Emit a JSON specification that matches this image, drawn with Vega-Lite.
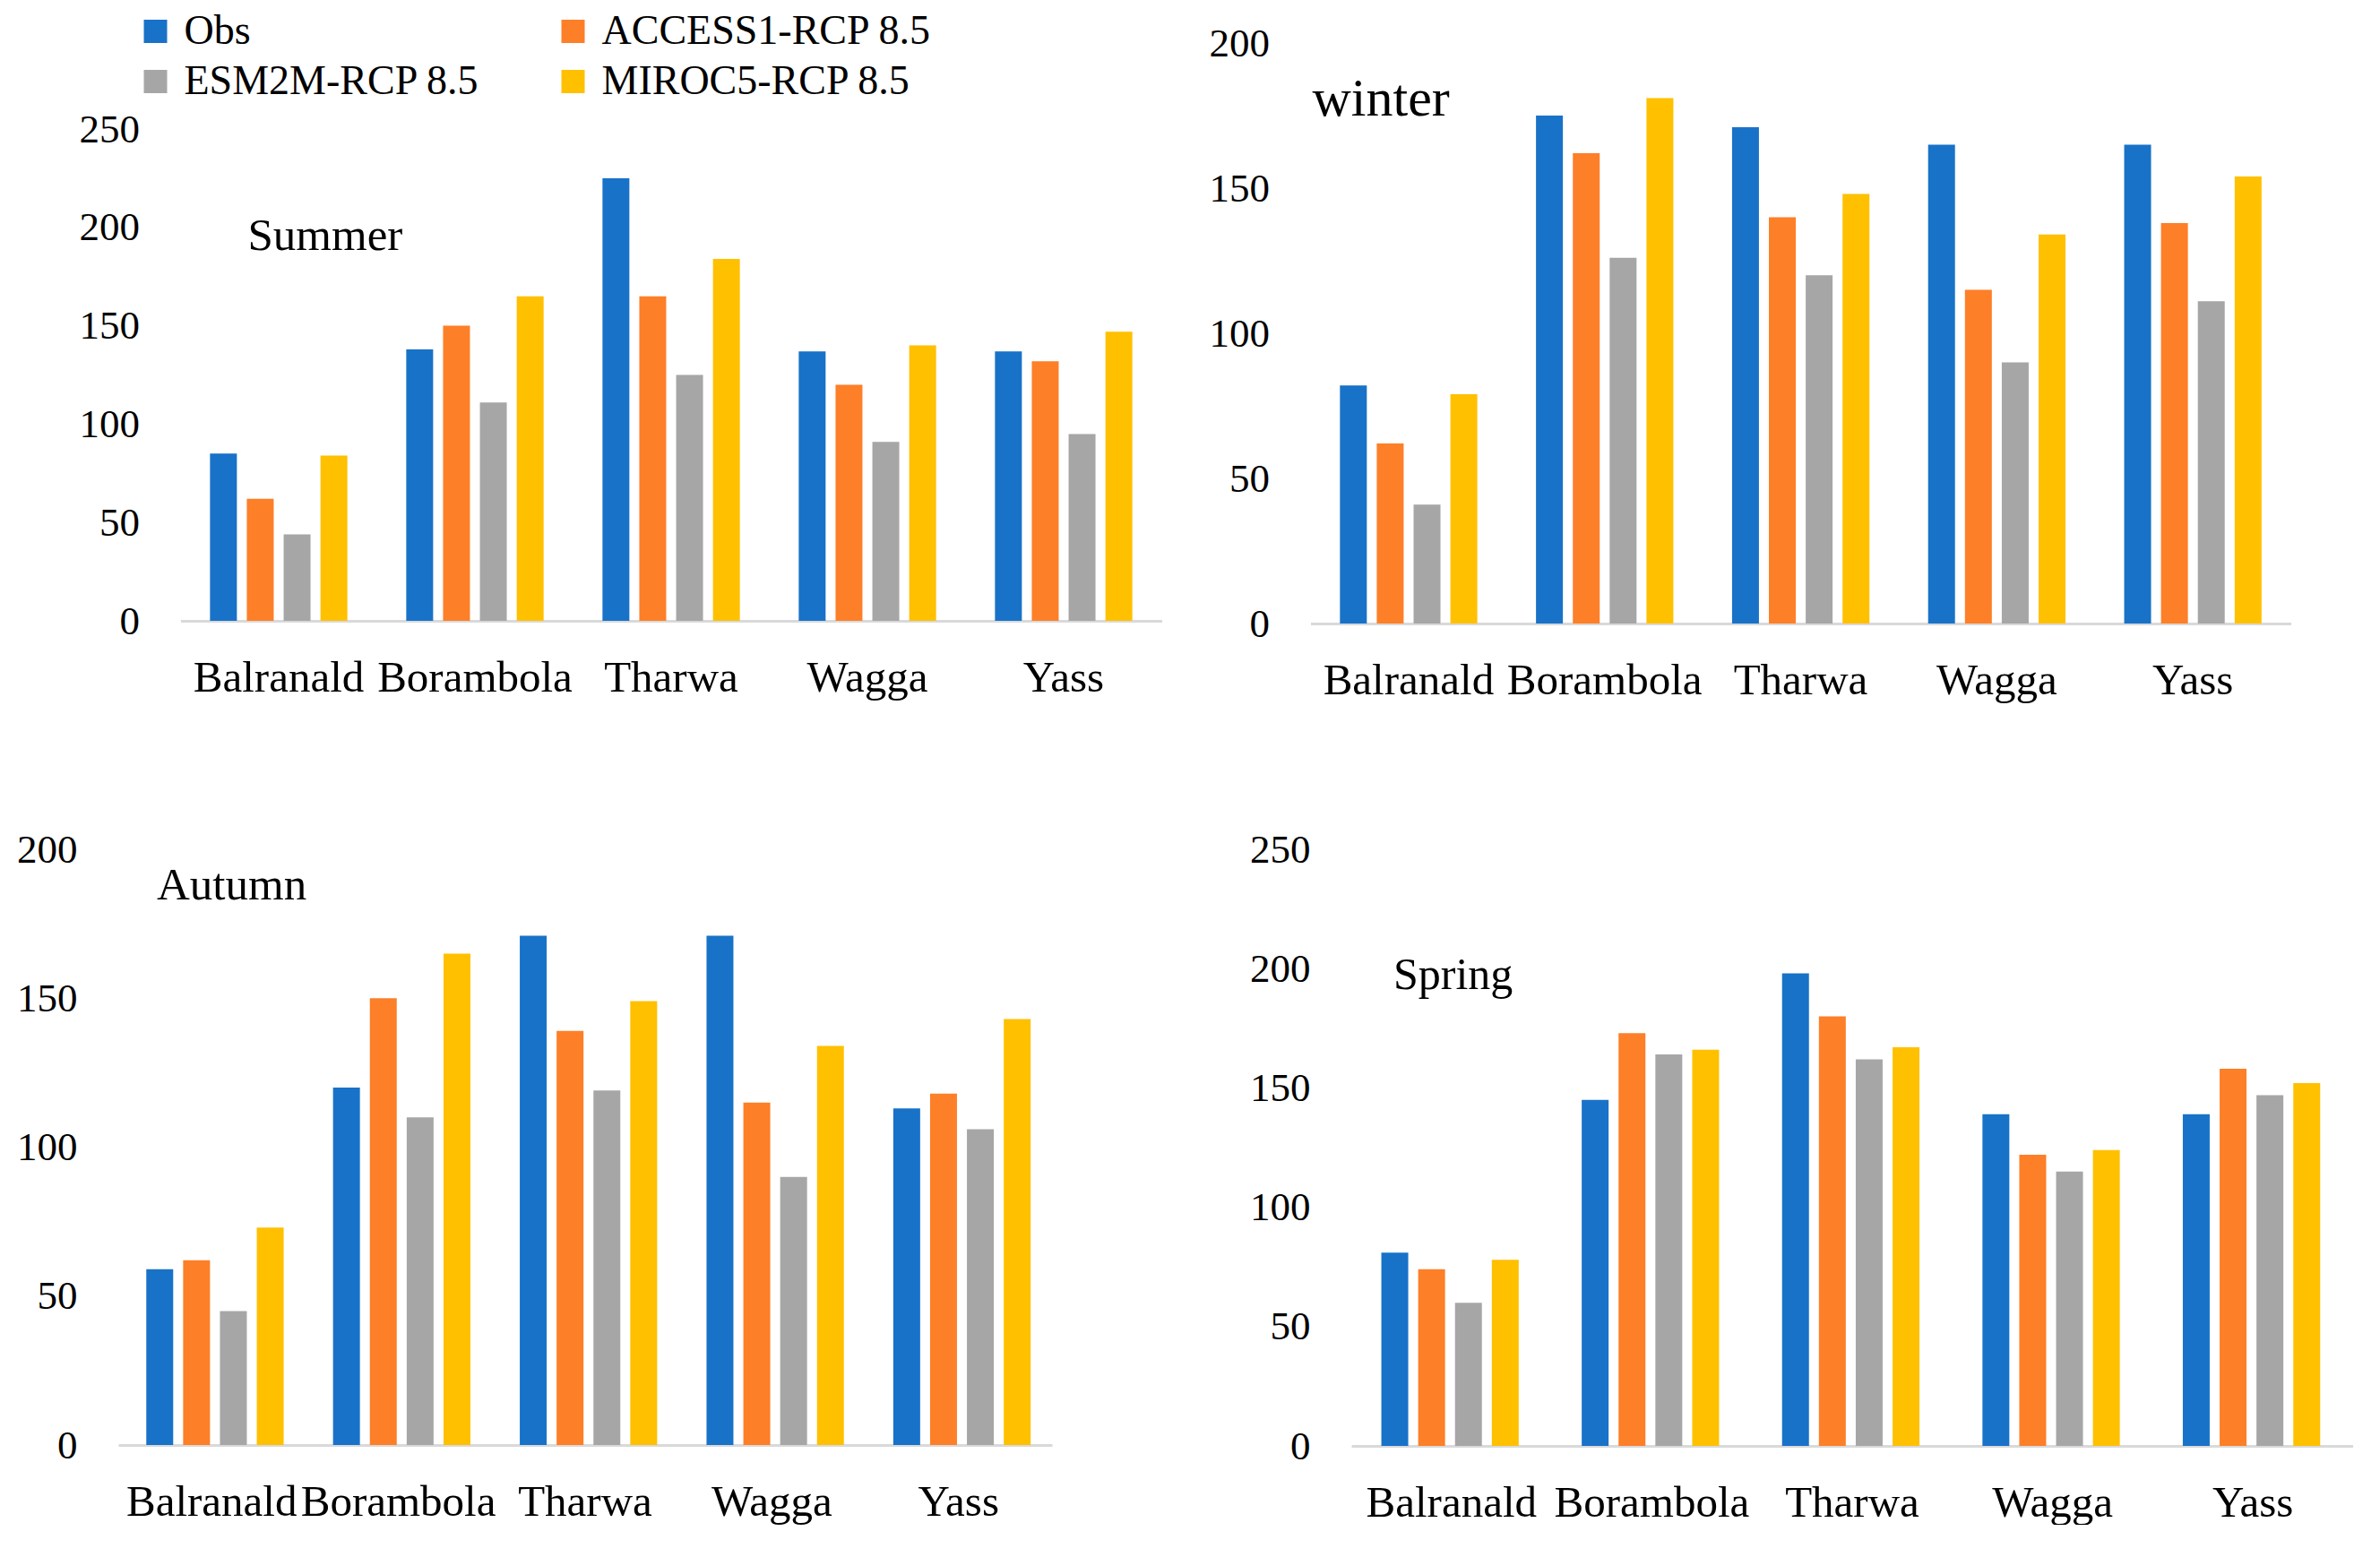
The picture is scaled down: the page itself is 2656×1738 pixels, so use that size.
{
  "$schema": "https://vega.github.io/schema/vega-lite/v6.json",
  "background": "white",
  "padding": {"left": 18, "top": 12, "right": 0, "bottom": 0},
  "data": {"values": [
    {"season": "Summer", "site": "Balranald", "model": "Obs", "value": 85},
    {"season": "Summer", "site": "Balranald", "model": "ACCESS1-RCP 8.5", "value": 62},
    {"season": "Summer", "site": "Balranald", "model": "ESM2M-RCP 8.5", "value": 44},
    {"season": "Summer", "site": "Balranald", "model": "MIROC5-RCP 8.5", "value": 84},
    {"season": "Summer", "site": "Borambola", "model": "Obs", "value": 138},
    {"season": "Summer", "site": "Borambola", "model": "ACCESS1-RCP 8.5", "value": 150},
    {"season": "Summer", "site": "Borambola", "model": "ESM2M-RCP 8.5", "value": 111},
    {"season": "Summer", "site": "Borambola", "model": "MIROC5-RCP 8.5", "value": 165},
    {"season": "Summer", "site": "Tharwa", "model": "Obs", "value": 225},
    {"season": "Summer", "site": "Tharwa", "model": "ACCESS1-RCP 8.5", "value": 165},
    {"season": "Summer", "site": "Tharwa", "model": "ESM2M-RCP 8.5", "value": 125},
    {"season": "Summer", "site": "Tharwa", "model": "MIROC5-RCP 8.5", "value": 184},
    {"season": "Summer", "site": "Wagga", "model": "Obs", "value": 137},
    {"season": "Summer", "site": "Wagga", "model": "ACCESS1-RCP 8.5", "value": 120},
    {"season": "Summer", "site": "Wagga", "model": "ESM2M-RCP 8.5", "value": 91},
    {"season": "Summer", "site": "Wagga", "model": "MIROC5-RCP 8.5", "value": 140},
    {"season": "Summer", "site": "Yass", "model": "Obs", "value": 137},
    {"season": "Summer", "site": "Yass", "model": "ACCESS1-RCP 8.5", "value": 132},
    {"season": "Summer", "site": "Yass", "model": "ESM2M-RCP 8.5", "value": 95},
    {"season": "Summer", "site": "Yass", "model": "MIROC5-RCP 8.5", "value": 147},
    {"season": "winter", "site": "Balranald", "model": "Obs", "value": 82},
    {"season": "winter", "site": "Balranald", "model": "ACCESS1-RCP 8.5", "value": 62},
    {"season": "winter", "site": "Balranald", "model": "ESM2M-RCP 8.5", "value": 41},
    {"season": "winter", "site": "Balranald", "model": "MIROC5-RCP 8.5", "value": 79},
    {"season": "winter", "site": "Borambola", "model": "Obs", "value": 175},
    {"season": "winter", "site": "Borambola", "model": "ACCESS1-RCP 8.5", "value": 162},
    {"season": "winter", "site": "Borambola", "model": "ESM2M-RCP 8.5", "value": 126},
    {"season": "winter", "site": "Borambola", "model": "MIROC5-RCP 8.5", "value": 181},
    {"season": "winter", "site": "Tharwa", "model": "Obs", "value": 171},
    {"season": "winter", "site": "Tharwa", "model": "ACCESS1-RCP 8.5", "value": 140},
    {"season": "winter", "site": "Tharwa", "model": "ESM2M-RCP 8.5", "value": 120},
    {"season": "winter", "site": "Tharwa", "model": "MIROC5-RCP 8.5", "value": 148},
    {"season": "winter", "site": "Wagga", "model": "Obs", "value": 165},
    {"season": "winter", "site": "Wagga", "model": "ACCESS1-RCP 8.5", "value": 115},
    {"season": "winter", "site": "Wagga", "model": "ESM2M-RCP 8.5", "value": 90},
    {"season": "winter", "site": "Wagga", "model": "MIROC5-RCP 8.5", "value": 134},
    {"season": "winter", "site": "Yass", "model": "Obs", "value": 165},
    {"season": "winter", "site": "Yass", "model": "ACCESS1-RCP 8.5", "value": 138},
    {"season": "winter", "site": "Yass", "model": "ESM2M-RCP 8.5", "value": 111},
    {"season": "winter", "site": "Yass", "model": "MIROC5-RCP 8.5", "value": 154},
    {"season": "Autumn", "site": "Balranald", "model": "Obs", "value": 59},
    {"season": "Autumn", "site": "Balranald", "model": "ACCESS1-RCP 8.5", "value": 62},
    {"season": "Autumn", "site": "Balranald", "model": "ESM2M-RCP 8.5", "value": 45},
    {"season": "Autumn", "site": "Balranald", "model": "MIROC5-RCP 8.5", "value": 73},
    {"season": "Autumn", "site": "Borambola", "model": "Obs", "value": 120},
    {"season": "Autumn", "site": "Borambola", "model": "ACCESS1-RCP 8.5", "value": 150},
    {"season": "Autumn", "site": "Borambola", "model": "ESM2M-RCP 8.5", "value": 110},
    {"season": "Autumn", "site": "Borambola", "model": "MIROC5-RCP 8.5", "value": 165},
    {"season": "Autumn", "site": "Tharwa", "model": "Obs", "value": 171},
    {"season": "Autumn", "site": "Tharwa", "model": "ACCESS1-RCP 8.5", "value": 139},
    {"season": "Autumn", "site": "Tharwa", "model": "ESM2M-RCP 8.5", "value": 119},
    {"season": "Autumn", "site": "Tharwa", "model": "MIROC5-RCP 8.5", "value": 149},
    {"season": "Autumn", "site": "Wagga", "model": "Obs", "value": 171},
    {"season": "Autumn", "site": "Wagga", "model": "ACCESS1-RCP 8.5", "value": 115},
    {"season": "Autumn", "site": "Wagga", "model": "ESM2M-RCP 8.5", "value": 90},
    {"season": "Autumn", "site": "Wagga", "model": "MIROC5-RCP 8.5", "value": 134},
    {"season": "Autumn", "site": "Yass", "model": "Obs", "value": 113},
    {"season": "Autumn", "site": "Yass", "model": "ACCESS1-RCP 8.5", "value": 118},
    {"season": "Autumn", "site": "Yass", "model": "ESM2M-RCP 8.5", "value": 106},
    {"season": "Autumn", "site": "Yass", "model": "MIROC5-RCP 8.5", "value": 143},
    {"season": "Spring", "site": "Balranald", "model": "Obs", "value": 81},
    {"season": "Spring", "site": "Balranald", "model": "ACCESS1-RCP 8.5", "value": 74},
    {"season": "Spring", "site": "Balranald", "model": "ESM2M-RCP 8.5", "value": 60},
    {"season": "Spring", "site": "Balranald", "model": "MIROC5-RCP 8.5", "value": 78},
    {"season": "Spring", "site": "Borambola", "model": "Obs", "value": 145},
    {"season": "Spring", "site": "Borambola", "model": "ACCESS1-RCP 8.5", "value": 173},
    {"season": "Spring", "site": "Borambola", "model": "ESM2M-RCP 8.5", "value": 164},
    {"season": "Spring", "site": "Borambola", "model": "MIROC5-RCP 8.5", "value": 166},
    {"season": "Spring", "site": "Tharwa", "model": "Obs", "value": 198},
    {"season": "Spring", "site": "Tharwa", "model": "ACCESS1-RCP 8.5", "value": 180},
    {"season": "Spring", "site": "Tharwa", "model": "ESM2M-RCP 8.5", "value": 162},
    {"season": "Spring", "site": "Tharwa", "model": "MIROC5-RCP 8.5", "value": 167},
    {"season": "Spring", "site": "Wagga", "model": "Obs", "value": 139},
    {"season": "Spring", "site": "Wagga", "model": "ACCESS1-RCP 8.5", "value": 122},
    {"season": "Spring", "site": "Wagga", "model": "ESM2M-RCP 8.5", "value": 115},
    {"season": "Spring", "site": "Wagga", "model": "MIROC5-RCP 8.5", "value": 124},
    {"season": "Spring", "site": "Yass", "model": "Obs", "value": 139},
    {"season": "Spring", "site": "Yass", "model": "ACCESS1-RCP 8.5", "value": 158},
    {"season": "Spring", "site": "Yass", "model": "ESM2M-RCP 8.5", "value": 147},
    {"season": "Spring", "site": "Yass", "model": "MIROC5-RCP 8.5", "value": 152}
  ]},
  "center": true,
  "spacing": 142,
  "resolve": {"legend": {"color": "independent"}},
  "vconcat": [
    {
      "spacing": 52,
      "resolve": {"legend": {"color": "independent"}},
      "hconcat": [
        {
          "title": {"text": "Summer", "anchor": "start", "frame": "group", "orient": "top", "offset": -303, "dx": 75, "baseline": "middle", "fontSize": 51},
          "width": 1095, "height": 645,
          "transform": [{"filter": "datum.season == 'Summer'"}],
          "mark": {"type": "bar"},
          "encoding": {
            "x": {"field": "site", "type": "nominal", "sort": ["Balranald", "Borambola", "Tharwa", "Wagga", "Yass"], "scale": {"paddingInner": 0.3, "paddingOuter": 0.15}},
            "xOffset": {"field": "model", "type": "nominal", "sort": ["Obs", "ACCESS1-RCP 8.5", "ESM2M-RCP 8.5", "MIROC5-RCP 8.5"], "scale": {"paddingInner": 0.27, "paddingOuter": 0}},
            "y": {"field": "value", "type": "quantitative", "scale": {"domain": [0, 250], "nice": false, "range": [645, 96]}, "axis": {"values": [0, 50, 100, 150, 200, 250]}},
            "color": {"field": "model", "type": "nominal",
              "scale": {"domain": ["Obs", "ESM2M-RCP 8.5", "ACCESS1-RCP 8.5", "MIROC5-RCP 8.5"], "range": ["#1872C8", "#A6A6A6", "#FD7F28", "#FFC000"]},
              "legend": {"orient": "none", "legendX": -51, "legendY": -36, "columns": 2, "title": null, "symbolType": "square", "symbolSize": 676, "symbolStrokeWidth": 0, "symbolOpacity": 1, "labelFontSize": 46, "labelFont": "Liberation Serif", "labelColor": "#000000", "labelOffset": 9, "columnPadding": 81, "rowPadding": 10, "labelLimit": 600}
            }
          }
        },
        {
          "title": {"text": "winter", "anchor": "start", "frame": "group", "orient": "top", "offset": -145, "dx": 2, "baseline": "middle", "fontSize": 60},
          "width": 1094, "height": 648,
          "transform": [{"filter": "datum.season == 'winter'"}],
          "mark": {"type": "bar"},
          "encoding": {
            "x": {"field": "site", "type": "nominal", "sort": ["Balranald", "Borambola", "Tharwa", "Wagga", "Yass"], "scale": {"paddingInner": 0.3, "paddingOuter": 0.15}},
            "xOffset": {"field": "model", "type": "nominal", "sort": ["Obs", "ACCESS1-RCP 8.5", "ESM2M-RCP 8.5", "MIROC5-RCP 8.5"], "scale": {"paddingInner": 0.27, "paddingOuter": 0}},
            "y": {"field": "value", "type": "quantitative", "scale": {"domain": [0, 200], "nice": false}, "axis": {"values": [0, 50, 100, 150, 200]}},
            "color": {"field": "model", "type": "nominal", "legend": null}
          }
        }
      ]
    },
    {
      "spacing": 220,
      "resolve": {"legend": {"color": "independent"}},
      "hconcat": [
        {
          "title": {"text": "Autumn", "anchor": "start", "frame": "group", "orient": "top", "offset": -114, "dx": 43, "baseline": "middle", "fontSize": 51},
          "width": 1042, "height": 665,
          "transform": [{"filter": "datum.season == 'Autumn'"}],
          "mark": {"type": "bar"},
          "encoding": {
            "x": {"field": "site", "type": "nominal", "sort": ["Balranald", "Borambola", "Tharwa", "Wagga", "Yass"], "scale": {"paddingInner": 0.3, "paddingOuter": 0.15}},
            "xOffset": {"field": "model", "type": "nominal", "sort": ["Obs", "ACCESS1-RCP 8.5", "ESM2M-RCP 8.5", "MIROC5-RCP 8.5"], "scale": {"paddingInner": 0.27, "paddingOuter": 0}},
            "y": {"field": "value", "type": "quantitative", "scale": {"domain": [0, 200], "nice": false}, "axis": {"values": [0, 50, 100, 150, 200]}},
            "color": {"field": "model", "type": "nominal", "legend": null}
          }
        },
        {
          "title": {"text": "Spring", "anchor": "start", "frame": "group", "orient": "top", "offset": -213, "dx": 47, "baseline": "middle", "fontSize": 50},
          "width": 1118, "height": 666,
          "transform": [{"filter": "datum.season == 'Spring'"}],
          "mark": {"type": "bar"},
          "encoding": {
            "x": {"field": "site", "type": "nominal", "sort": ["Balranald", "Borambola", "Tharwa", "Wagga", "Yass"], "scale": {"paddingInner": 0.3, "paddingOuter": 0.15}},
            "xOffset": {"field": "model", "type": "nominal", "sort": ["Obs", "ACCESS1-RCP 8.5", "ESM2M-RCP 8.5", "MIROC5-RCP 8.5"], "scale": {"paddingInner": 0.27, "paddingOuter": 0}},
            "y": {"field": "value", "type": "quantitative", "scale": {"domain": [0, 250], "nice": false}, "axis": {"values": [0, 50, 100, 150, 200, 250]}},
            "color": {"field": "model", "type": "nominal", "legend": null}
          }
        }
      ]
    }
  ],
  "config": {
    "font": "Liberation Serif",
    "view": {"stroke": null},
    "bar": {"opacity": 1},
    "title": {"font": "Liberation Serif", "fontWeight": "normal", "color": "#000000"},
    "axis": {"title": null, "grid": false, "ticks": false, "labelFont": "Liberation Serif", "labelColor": "#000000"},
    "axisX": {"domainColor": "#D9D9D9", "domainWidth": 3, "labelFontSize": 49, "labelPadding": 39, "labelAngle": 0, "labelLimit": 500},
    "axisY": {"domain": false, "labelFontSize": 45, "labelPadding": 46}
  }
}
